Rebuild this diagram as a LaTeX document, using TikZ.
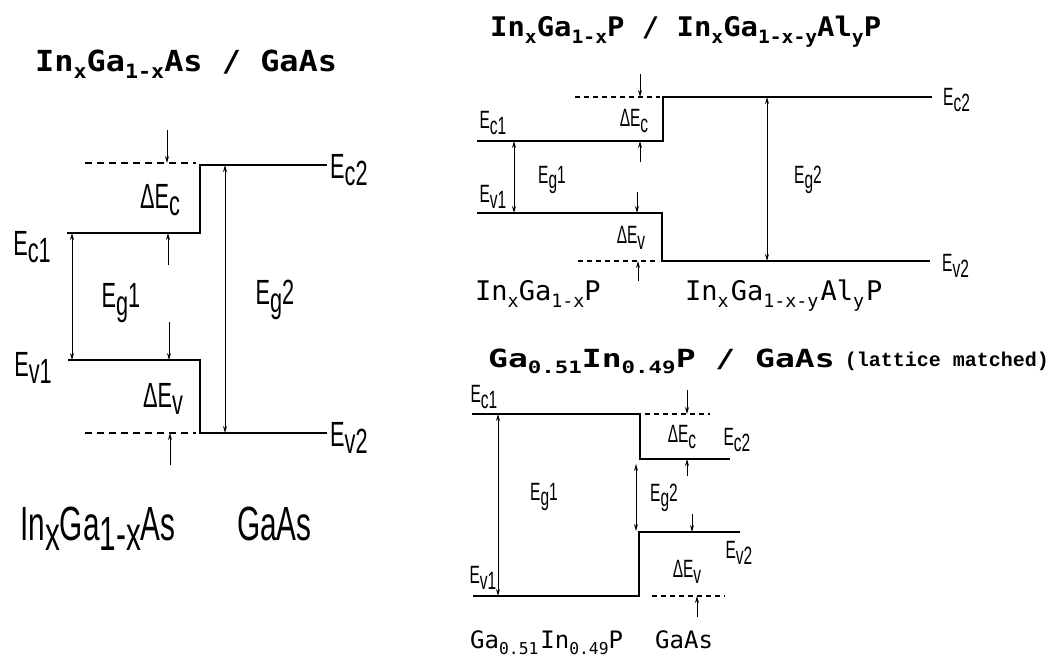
\documentclass[tikz,border=0pt]{standalone}
\usepackage{fontspec}
\usepackage{graphicx}
\usetikzlibrary{arrows.meta}
\setmainfont{Liberation Sans}
\newfontfamily\cf[FakeStretch=0.62]{Liberation Sans}
\newfontfamily\tfa[FakeStretch=1.1]{DejaVu Sans Mono}
\newfontfamily\tfb[FakeStretch=1.07]{DejaVu Sans Mono}
\newfontfamily\tfc[FakeStretch=1.32]{DejaVu Sans Mono}
\newfontfamily\mf{DejaVu Sans Mono}
\newfontfamily\lf{Liberation Mono}
\newcommand\lo[1]{\raisebox{-0.4ex}{#1}}
\newcommand\sbs[1]{\raisebox{-0.5ex}{\scalebox{0.68}{#1}}}
\tikzset{
  lvlL/.style={line width=2.4pt},
  lvlR/.style={line width=1.9pt},
  dshL/.style={line width=1.8pt,dash pattern=on 7pt off 5pt},
  dshR/.style={line width=1.5pt,dash pattern=on 5pt off 4pt},
  arr/.style={line width=1pt,-{Stealth[length=7pt,width=4pt]}},
  darr/.style={line width=1pt,{Stealth[length=7pt,width=4pt]}-{Stealth[length=7pt,width=4pt]}},
  labL/.style={font=\cf\fontsize{35}{35}\selectfont,inner sep=0pt},
  labR/.style={font=\cf\fontsize{25}{25}\selectfont,inner sep=0pt},
  botL/.style={font=\cf\fontsize{48}{48}\selectfont,inner sep=0pt,anchor=base west},
  ttl/.style={inner sep=0pt,anchor=base west}
}
\begin{document}
\begin{tikzpicture}[x=1pt,y=-1pt]
\useasboundingbox (0,0) rectangle (1054,670);
% ================= LEFT =================
\node[ttl,font=\tfa\bfseries\fontsize{29}{29}\selectfont] (tL) at (35,71)
  {In\sbs{x}Ga\sbs{1-x}As / GaAs};
\coordinate (Ldc0) at (85,163);  \coordinate (Ldc1) at (196,163);
\coordinate (Lc2a) at (200,165); \coordinate (Lc2b) at (327,165);
\coordinate (Lc1a) at (67,233);  \coordinate (Lc1b) at (200,233);
\coordinate (Lv1a) at (68,360);  \coordinate (Lv1b) at (200,360);
\coordinate (Lv2a) at (200,433); \coordinate (Lv2b) at (327,433);
\coordinate (Ldv0) at (85,433);  \coordinate (Ldv1) at (196,433);
\draw[lvlL] (Lc1a) -- (Lc1b) -- (Lc2a) -- (Lc2b);
\draw[lvlL] (Lv1a) -- (Lv1b) -- (Lv2a) -- (Lv2b);
\draw[dshL] (Ldc0) -- (Ldc1);
\draw[dshL] (Ldv0) -- (Ldv1);
\coordinate (LaC0) at (167,130); \coordinate (LaC1) at (168,265);
\coordinate (LaV0) at (169,322); \coordinate (LaV1) at (170,465);
\draw[arr] (LaC0) -- (LaC0 |- Ldc0);
\draw[arr] (LaC1) -- (LaC1 |- Lc1a);
\draw[arr] (LaV0) -- (LaV0 |- Lv1a);
\draw[arr] (LaV1) -- (LaV1 |- Ldv0);
\coordinate (LgA) at (72,233); \coordinate (LgB) at (225,165);
\draw[darr] (LgA) -- (LgA |- Lv1a);
\draw[darr] (LgB) -- (LgB |- Lv2a);
\node[labL] (LdEc) at (160,200) {ΔE\lo{c}};
\node[labL] (LdEv) at (163,399) {ΔE\lo{v}};
\node[labL] (LEg1) at (121,303) {E\lo{g}1};
\node[labL] (LEg2) at (275,300) {E\lo{g}2};
\node[labL] (LEc1) at (32,247) {E\lo{c1}};
\node[labL] (LEv1) at (33,368) {E\lo{v1}};
\node[labL,anchor=west] (LEc2) at (330,170) {E\lo{c2}};
\node[labL,anchor=west] (LEv2) at (330,438) {E\lo{v2}};
\node[botL] (Lm1) at (20,540) {In\lo{x}Ga\lo{1-x}As};
\node[botL] (Lm2) at (237,540) {GaAs};
% ================= RIGHT TOP =================
\node[ttl,font=\tfb\bfseries\fontsize{27}{27}\selectfont] (tR1) at (490,36)
  {In\sbs{x}Ga\sbs{1-x}P / In\sbs{x}Ga\sbs{1-x-y}Al\sbs{y}P};
\coordinate (Adc0) at (575,97);  \coordinate (Adc1) at (660,97);
\coordinate (Ac2a) at (663,97);  \coordinate (Ac2b) at (932,97);
\coordinate (Ac1a) at (477,141); \coordinate (Ac1b) at (663,141);
\coordinate (Av1a) at (477,213); \coordinate (Av1b) at (662,213);
\coordinate (Av2a) at (662,261); \coordinate (Av2b) at (930,261);
\coordinate (Adv0) at (578,261); \coordinate (Adv1) at (659,261);
\draw[lvlR] (Ac1a) -- (Ac1b) -- (Ac2a) -- (Ac2b);
\draw[lvlR] (Av1a) -- (Av1b) -- (Av2a) -- (Av2b);
\draw[dshR] (Adc0) -- (Adc1);
\draw[dshR] (Adv0) -- (Adv1);
\coordinate (AaC0) at (640,74);  \coordinate (AaC1) at (640,162);
\coordinate (AaV0) at (637,192); \coordinate (AaV1) at (638,281);
\draw[arr] (AaC0) -- (AaC0 |- Adc0);
\draw[arr] (AaC1) -- (AaC1 |- Ac1a);
\draw[arr] (AaV0) -- (AaV0 |- Av1a);
\draw[arr] (AaV1) -- (AaV1 |- Adv0);
\coordinate (AgA) at (514,141); \coordinate (AgB) at (767,97);
\draw[darr] (AgA) -- (AgA |- Av1a);
\draw[darr] (AgB) -- (AgB |- Av2a);
\node[labR] (AdEc) at (634,121) {ΔE\lo{c}};
\node[labR] (AdEv) at (631,238) {ΔE\lo{v}};
\node[labR] (AEg1) at (552,180) {E\lo{g}1};
\node[labR] (AEg2) at (808,180) {E\lo{g}2};
\node[labR] (AEc1) at (493,123) {E\lo{c1}};
\node[labR] (AEv1) at (493,197) {E\lo{v1}};
\node[labR,anchor=west] (AEc2) at (943,100) {E\lo{c2}};
\node[labR,anchor=west] (AEv2) at (942,266) {E\lo{v2}};
\node[ttl,font=\mf\fontsize{27}{27}\selectfont] (Am1) at (475,300) {In\sbs{x}Ga\sbs{1-x}P};
\node[ttl,font=\mf\fontsize{27}{27}\selectfont] (Am2) at (685,300) {In\sbs{x}\kern2pt Ga\sbs{1-x-y}\kern2pt Al\sbs{y}\kern2pt P};
% ================= RIGHT BOTTOM =================
\node[ttl,font=\tfc\bfseries\fontsize{25}{25}\selectfont] (tR2) at (488,367)
  {Ga\sbs{0.51}In\sbs{0.49}P / GaAs};
\node[ttl,font=\lf\bfseries\fontsize{20}{20}\selectfont,anchor=base east] (tR3) at (1049,366) {(lattice matched)};
\coordinate (Bc1a) at (472,414); \coordinate (Bc1b) at (640,414);
\coordinate (Bdc0) at (645,414); \coordinate (Bdc1) at (710,414);
\coordinate (Bc2a) at (640,459); \coordinate (Bc2b) at (730,459);
\coordinate (Bv2a) at (639,532); \coordinate (Bv2b) at (740,532);
\coordinate (Bv1a) at (473,596); \coordinate (Bv1b) at (639,596);
\coordinate (Bdv0) at (652,596); \coordinate (Bdv1) at (725,596);
\draw[lvlR] (Bc1a) -- (Bc1b) -- (Bc2a) -- (Bc2b);
\draw[lvlR] (Bv1a) -- (Bv1b) -- (Bv2a) -- (Bv2b);
\draw[dshR] (Bdc0) -- (Bdc1);
\draw[dshR] (Bdv0) -- (Bdv1);
\coordinate (BaC0) at (687,390); \coordinate (BaC1) at (687,476);
\coordinate (BaV0) at (692,514); \coordinate (BaV1) at (697,617);
\draw[arr] (BaC0) -- (BaC0 |- Bdc0);
\draw[arr] (BaC1) -- (BaC1 |- Bc2a);
\draw[arr] (BaV0) -- (BaV0 |- Bv2a);
\draw[arr] (BaV1) -- (BaV1 |- Bdv0);
\coordinate (BgA) at (498,414); \coordinate (BgB0) at (636,464); \coordinate (BgB1) at (636,531);
\draw[darr] (BgA) -- (BgA |- Bv1a);
\draw[darr] (BgB0) -- (BgB1);
\node[labR] (BdEc) at (682,437) {ΔE\lo{c}};
\node[labR] (BdEv) at (687,572) {ΔE\lo{v}};
\node[labR] (BEg1) at (544,497) {E\lo{g}1};
\node[labR] (BEg2) at (664,498) {E\lo{g}2};
\node[labR] (BEc1) at (484,397) {E\lo{c1}};
\node[labR] (BEv1) at (483,578) {E\lo{v1}};
\node[labR] (BEc2) at (737,440) {E\lo{c2}};
\node[labR] (BEv2) at (739,553) {E\lo{v2}};
\node[ttl,font=\mf\fontsize{24}{24}\selectfont] (Bm1) at (470,648) {Ga\sbs{0.51}\kern2pt In\sbs{0.49}P};
\node[ttl,font=\mf\fontsize{24}{24}\selectfont] (Bm2) at (655,648) {GaAs};
\end{tikzpicture}
\end{document}
